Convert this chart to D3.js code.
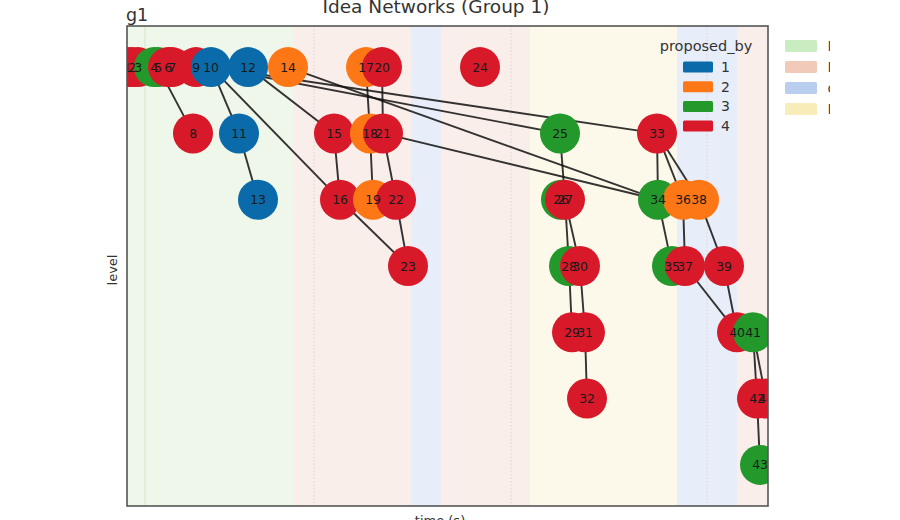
<!DOCTYPE html>
<head>
    <title>Idea Networks (Group 1)</title>
    <style>
        body { margin: 0; background: #fff; }
        text { font-family: "DejaVu Sans", sans-serif; }
    </style>
</head>
<body>
<script src="https://cdn.jsdelivr.net/npm/d3@7"></script>
<script type="text/javascript">
    // node data: id, time (s), level, proposed_by
    var nodeIds = [1, 2, 3, 4, 5, 6, 7, 8, 9, 10, 11, 12, 13, 14, 15, 16, 17, 18, 19, 20, 21, 22,
        23, 24, 25, 26, 27, 28, 29, 30, 31, 32, 33, 34, 35, 36, 37, 38, 39, 40, 41, 42, 43, 44];
    var nodeTime = [0, 20, 44, 108, 124, 164, 180, 264, 276, 336, 448, 484, 524, 644, 828, 852,
        956, 972, 984, 1020, 1024, 1076, 1124, 1412, 1732, 1736, 1752, 1768, 1780, 1812, 1832, 1840,
        2120, 2124, 2180, 2224, 2232, 2288, 2388, 2440, 2504, 2520, 2532, 2556];
    var nodeLevel = [0, 0, 0, 0, 0, 0, 0, 1, 0, 0, 1, 0, 2, 0, 1, 2, 0, 1, 2, 0, 1, 2,
        3, 0, 1, 2, 2, 3, 4, 3, 4, 5, 1, 2, 3, 2, 3, 2, 3, 4, 4, 5, 6, 5];
    var nodeProposer = [4, 4, 4, 3, 3, 4, 4, 4, 4, 1, 1, 1, 1, 2, 4, 4, 2, 2, 2, 4, 4, 4,
        4, 4, 3, 3, 4, 3, 4, 4, 4, 4, 4, 3, 3, 2, 4, 2, 4, 4, 3, 4, 3, 4];

    // edges (parent -> child)
    var edgeSource = [5, 10, 10, 11, 12, 15, 16, 17, 18, 20, 21, 22, 10, 10, 14, 21, 25, 27, 27,
        28, 30, 31, 33, 33, 33, 34, 36, 38, 37, 39, 41, 41, 42];
    var edgeTarget = [8, 11, 16, 13, 15, 16, 23, 18, 19, 21, 22, 23, 25, 33, 34, 34, 27, 28, 30,
        29, 31, 32, 34, 36, 38, 35, 37, 39, 40, 40, 42, 44, 43];

    // phase spans in time
    var phaseStart = [0, 664, 1136, 1256, 1612, 2200, 2440];
    var phaseEnd = [664, 1136, 1256, 1612, 2200, 2440, 2600];
    var phaseOf = [0, 1, 2, 1, 3, 2, 1];
    var phaseNames = ["Ideation", "Building", "converging", "Reflecting"];
    var markerTime = [72, 748, 1536, 2320];

    var proposers = ["1", "2", "3", "4"];
    var proposerColors = ["#0b6aa9", "#fd7717", "#23992b", "#d7192a"];
    var phaseFill = ["#eef7e9", "#faeeea", "#e7eef9", "#fcf9eb"];
    var phasePatch = ["#c9ecc1", "#f2cab9", "#b9cdee", "#f8edb8"];

    var frameWidth = 900, frameHeight = 520;
    var plotLeft = 127, plotRight = 768, plotTop = 26, plotBottom = 506;

    var x = d3.scaleLinear().domain([0, 2564]).range([plotLeft, plotRight]);
    var y = d3.scaleLinear().domain([-0.62, 6.62]).range([plotTop, plotBottom]);
    var color = d3.scaleOrdinal().domain([1, 2, 3, 4]).range(proposerColors);

    var svg = d3.select("body")
        .append("svg")
        .attr("width", frameWidth)
        .attr("height", frameHeight);

    svg.append("clipPath").attr("id", "plotclip")
        .append("rect")
        .attr("x", plotLeft).attr("y", plotTop)
        .attr("width", plotRight - plotLeft).attr("height", plotBottom - plotTop);

    var plot = svg.append("g").attr("clip-path", "url(#plotclip)");

    // phase bands
    plot.selectAll("rect.band")
        .data(phaseStart)
        .enter()
        .append("rect")
        .attr("class", "band")
        .attr("x", function (d) { return x(d); })
        .attr("y", plotTop)
        .attr("width", function (d, i) { return x(phaseEnd[i]) - x(d); })
        .attr("height", plotBottom - plotTop)
        .attr("fill", function (d, i) { return phaseFill[phaseOf[i]]; });

    plot.selectAll("line.marker")
        .data(markerTime)
        .enter()
        .append("line")
        .attr("class", "marker")
        .attr("x1", function (d) { return x(d); })
        .attr("x2", function (d) { return x(d); })
        .attr("y1", plotTop).attr("y2", plotBottom)
        .attr("stroke", function (d, i) { return i == 0 ? "#cfeac4" : "#d9d2d0"; })
        .attr("stroke-width", 1)
        .attr("stroke-dasharray", function (d, i) { return i == 0 ? null : "1.5,2"; });

    // lookup node by id
    var nodes = nodeIds.map(function (id, i) {
        return {id: id, t: nodeTime[i], level: nodeLevel[i], by: nodeProposer[i]};
    });
    var byId = {};
    nodes.forEach(function (n) { byId[n.id] = n; });
    var edges = edgeSource.map(function (s, i) {
        return {s: byId[s], t: byId[edgeTarget[i]]};
    });

    plot.selectAll("line.edge")
        .data(edges)
        .enter()
        .append("line")
        .attr("class", "edge")
        .attr("x1", function (d) { return x(d.s.t); })
        .attr("y1", function (d) { return y(d.s.level); })
        .attr("x2", function (d) { return x(d.t.t); })
        .attr("y2", function (d) { return y(d.t.level); })
        .attr("stroke", "#111")
        .attr("stroke-opacity", 0.85)
        .attr("stroke-width", 1.9);

    // circles first, then all labels on top
    plot.selectAll("circle.node")
        .data(nodes)
        .enter()
        .append("circle")
        .attr("class", "node")
        .attr("cx", function (d) { return x(d.t); })
        .attr("cy", function (d) { return y(d.level); })
        .attr("r", 20)
        .attr("fill", function (d) { return color(d.by); });

    plot.selectAll("text.nlabel")
        .data(nodes)
        .enter()
        .append("text")
        .attr("class", "nlabel")
        .attr("x", function (d) { return x(d.t); })
        .attr("y", function (d) { return y(d.level); })
        .attr("text-anchor", "middle")
        .attr("dy", "0.36em")
        .style("font-size", "12.5px")
        .style("letter-spacing", "-0.3px")
        .attr("fill", "#1a1a1a")
        .text(function (d) { return d.id; });

    // axes frame
    svg.append("rect")
        .attr("x", plotLeft).attr("y", plotTop)
        .attr("width", plotRight - plotLeft).attr("height", plotBottom - plotTop)
        .attr("fill", "none")
        .attr("stroke", "#555")
        .attr("stroke-width", 1.6);

    // titles and labels
    svg.append("text")
        .attr("x", 436).attr("y", 13)
        .attr("text-anchor", "middle")
        .style("font-size", "18.5px")
        .attr("fill", "#333")
        .text("Idea Networks (Group 1)");

    svg.append("text")
        .attr("x", 126).attr("y", 21)
        .style("font-size", "17.5px")
        .attr("fill", "#333")
        .text("g1");

    svg.append("text")
        .attr("transform", "translate(117,270) rotate(-90)")
        .attr("text-anchor", "middle")
        .style("font-size", "13px")
        .attr("fill", "#333")
        .text("level");

    svg.append("text")
        .attr("x", 440).attr("y", 525)
        .attr("text-anchor", "middle")
        .style("font-size", "13px")
        .attr("fill", "#333")
        .text("time (s)");

    // proposed_by legend
    var leg = svg.append("g");
    leg.append("text")
        .attr("x", 706).attr("y", 51)
        .attr("text-anchor", "middle")
        .style("font-size", "14.5px")
        .attr("fill", "#333")
        .text("proposed_by");
    leg.selectAll("rect")
        .data(proposers)
        .enter()
        .append("rect")
        .attr("x", 683)
        .attr("y", function (d, i) { return 61.5 + i * 19.7; })
        .attr("width", 30).attr("height", 11)
        .attr("rx", 1.5)
        .attr("fill", function (d, i) { return proposerColors[i]; });
    leg.selectAll("text.lab")
        .data(proposers)
        .enter()
        .append("text")
        .attr("class", "lab")
        .attr("x", 721)
        .attr("y", function (d, i) { return 72 + i * 19.7; })
        .style("font-size", "14px")
        .attr("fill", "#333")
        .text(function (d) { return d; });

    // phase legend, cut off at the right of the picture
    svg.append("clipPath").attr("id", "legclip")
        .append("rect").attr("x", 770).attr("y", 0).attr("width", 60).attr("height", 200);
    var leg2 = svg.append("g").attr("clip-path", "url(#legclip)");
    leg2.selectAll("rect")
        .data(phaseNames)
        .enter()
        .append("rect")
        .attr("x", 785)
        .attr("y", function (d, i) { return 40 + i * 21; })
        .attr("width", 32).attr("height", 12)
        .attr("rx", 1.5)
        .attr("fill", function (d, i) { return phasePatch[i]; });
    leg2.selectAll("text")
        .data(phaseNames)
        .enter()
        .append("text")
        .attr("x", 827.5)
        .attr("y", function (d, i) { return 51 + i * 21; })
        .style("font-size", "14px")
        .attr("fill", "#444")
        .text(function (d) { return d; });
</script>
</body>
